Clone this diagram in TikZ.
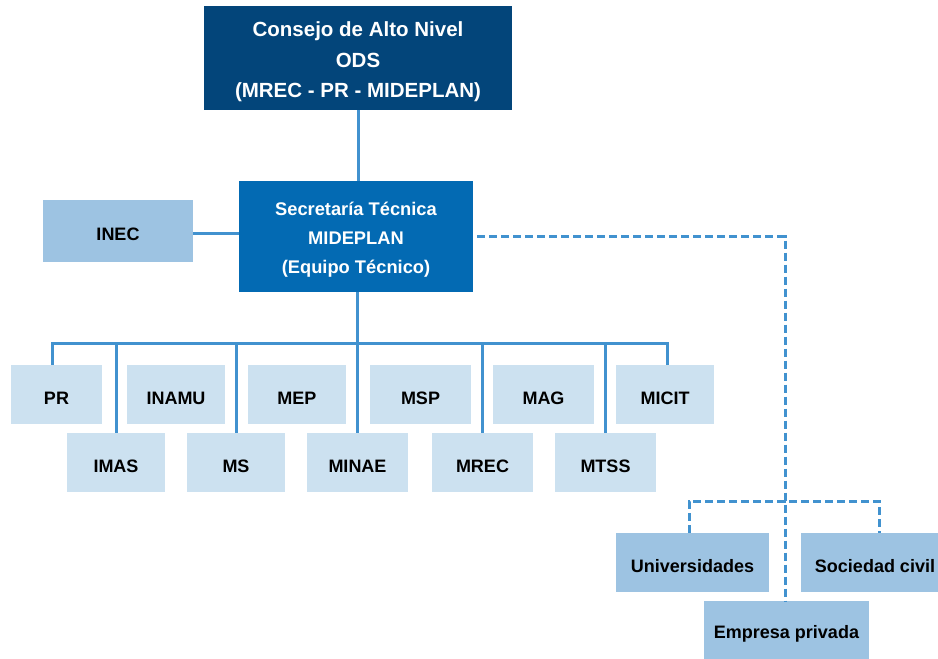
\documentclass[tikz,border=0pt]{standalone}
\usepackage{fontspec}
\setmainfont{Liberation Sans}
\usetikzlibrary{positioning}

\definecolor{consejoBlue}{RGB}{3,69,122}
\definecolor{secBlue}{RGB}{3,106,179}
\definecolor{midBlue}{RGB}{157,195,226}
\definecolor{paleBlue}{RGB}{204,225,240}
\definecolor{lineBlue}{RGB}{65,146,207}

\begin{document}
\begin{tikzpicture}[x=1pt, y=-1pt,
    box/.style={fill=paleBlue, text=black, inner sep=0pt, minimum height=59pt,
        text height=19pt, text depth=0pt,
        font=\bfseries\fontsize{18}{22}\selectfont},
    midbox/.style={box, fill=midBlue},
    link/.style={draw=lineBlue, line width=3pt},
    dlink/.style={link, dash pattern=on 8pt off 4pt}]
    \useasboundingbox (0,0) rectangle (938,659);

    % top level
    \node[fill=consejoBlue, text=white, align=center, inner sep=0pt,
        minimum width=308pt, minimum height=104pt,
        font=\bfseries\fontsize{20.5}{30.5}\selectfont] (consejo) at (358,58)
        {\rule{0pt}{23pt}Consejo de Alto Nivel\\ODS\\(MREC - PR - MIDEPLAN)};
    \node[fill=secBlue, text=white, align=center, inner sep=0pt,
        minimum width=234pt, minimum height=111pt,
        font=\bfseries\fontsize{18.3}{29}\selectfont] (secTec) at (356,236.5)
        {\rule{0pt}{19.5pt}Secretaría Técnica\\MIDEPLAN\\(Equipo Técnico)};
    \node[midbox, minimum width=150pt, minimum height=62pt] (inec) at (118,231) {INEC};

    % institutions
    \node[box, minimum width=91pt] (pr) at (56.5,394.5) {PR};
    \node[box, minimum width=98pt] (inamu) at (176,394.5) {INAMU};
    \node[box, minimum width=98pt] (mep) at (297,394.5) {MEP};
    \node[box, minimum width=101pt] (msp) at (420.5,394.5) {MSP};
    \node[box, minimum width=101pt] (mag) at (543.5,394.5) {MAG};
    \node[box, minimum width=98pt] (micit) at (665,394.5) {MICIT};
    \node[box, minimum width=98pt] (imas) at (116,462.5) {IMAS};
    \node[box, minimum width=98pt] (ms) at (236,462.5) {MS};
    \node[box, minimum width=101pt] (minae) at (357.5,462.5) {MINAE};
    \node[box, minimum width=101pt] (mrec) at (482.5,462.5) {MREC};
    \node[box, minimum width=101pt] (mtss) at (605.5,462.5) {MTSS};

    % other actors
    \node[midbox, minimum width=153pt] (univ) at (692.5,562.5) {Universidades};
    \node[midbox, minimum width=148pt] (socCivil) at (875,562.5) {Sociedad civil};
    \node[midbox, minimum width=165pt, minimum height=58pt, text height=17pt] (empresa) at (786.5,630) {Empresa privada};

    \coordinate (bus) at (357,343);
    \coordinate (subBus) at (785,501);

    \draw[link] (consejo.south) -- (consejo.south |- secTec.north);
    \draw[link] (inec.east |- 0,233) -- (secTec.west |- 0,233);
    \draw[link] (secTec.south -| bus) -- (bus);
    \draw[link] ([xshift=-4pt]pr.north) |- (bus) -| ([xshift=2pt]micit.north);
    \foreach \inst in {imas,ms,minae,mrec,mtss}
        \draw[link] (\inst.north) -- (\inst.north |- bus);

    \draw[dlink] ([xshift=4pt]secTec.east) -- (secTec.east -| subBus) -- (subBus |- empresa.north);
    \draw[dlink] ([xshift=-3.5pt]univ.north) |- (subBus) -| ([xshift=4pt]socCivil.north);
\end{tikzpicture}
\end{document}
